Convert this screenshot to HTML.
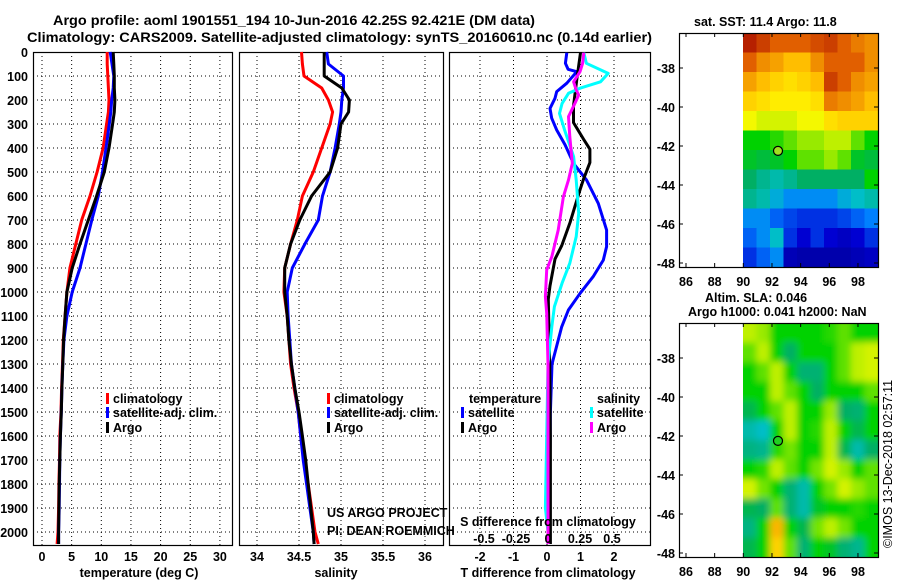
<!DOCTYPE html>
<html><head><meta charset="utf-8">
<style>
html,body{margin:0;padding:0;background:#fff;}
svg{display:block;font-family:"Liberation Sans",sans-serif;}
.b{font-weight:bold;font-size:12.5px;fill:#000;}
.t{font-weight:bold;font-size:14px;fill:#000;}
</style></head>
<body>
<svg id="fig" width="900" height="580" viewBox="0 0 900 580" xmlns="http://www.w3.org/2000/svg">
<text class="t" x="53" y="25" textLength="482" lengthAdjust="spacingAndGlyphs">Argo profile: aoml 1901551_194 10-Jun-2016 42.25S 92.421E (DM data)</text>
<text class="t" x="27" y="42" textLength="625" lengthAdjust="spacingAndGlyphs">Climatology: CARS2009. Satellite-adjusted climatology: synTS_20160610.nc (0.14d earlier)</text>
<text class="b" x="694" y="26">sat. SST: 11.4 Argo: 11.8</text>
<text class="b" x="705" y="302">Altim. SLA: 0.046</text>
<text class="b" x="688" y="316">Argo h1000: 0.041 h2000: NaN</text>
<text x="0" y="0" font-size="12.5" transform="translate(892,548) rotate(-90)">©IMOS 13-Dec-2018 02:57:11</text>
</svg>
<script>
// ---------- data ----------
const depthTicks=[0,100,200,300,400,500,600,700,800,900,1000,1100,1200,1300,1400,1500,1600,1700,1800,1900,2000];
const profDepths=[0,50,100,150,200,250,300,400,500,600,700,800,900,1000,1100,1200,1300,1400,1500,1600,1700,1800,1900,2000,2050];
const tempClim=[11.0,11.0,11.1,11.2,11.3,11.2,10.9,10.3,9.3,8.1,6.7,5.7,4.7,4.2,3.9,3.6,3.45,3.3,3.2,3.0,2.95,2.85,2.8,2.7,2.55];
const tempSat=[11.5,11.8,12.1,12.0,11.75,11.6,11.35,10.8,10.2,9.5,8.4,7.4,6.4,5.1,4.2,3.7,3.5,3.35,3.25,3.1,3.0,2.95,2.9,2.8,2.8];
const tempArgo=[12.0,12.1,12.2,12.2,12.3,12.2,11.9,11.3,10.5,9.2,7.8,6.4,5.1,4.2,3.9,3.65,3.5,3.35,3.25,3.1,3.0,2.9,2.85,2.8,2.8];
const salClim=[34.53,34.54,34.56,34.77,34.85,34.9,34.87,34.77,34.67,34.54,34.48,34.40,34.33,34.32,34.36,34.38,34.40,34.44,34.49,34.52,34.56,34.61,34.65,34.69,34.73];
const salSat=[34.83,34.85,35.03,35.03,35.01,35.0,34.98,34.93,34.87,34.78,34.73,34.57,34.42,34.36,34.37,34.39,34.41,34.45,34.49,34.52,34.55,34.59,34.63,34.67,34.68];
const salArgo=[34.80,34.80,34.80,35.01,35.10,35.09,35.0,34.96,34.87,34.65,34.51,34.40,34.33,34.33,34.36,34.38,34.41,34.45,34.50,34.54,34.58,34.61,34.64,34.67,34.68];
const dTSatDepth=[3,47,72,82,130,165,193,235,276,325,387,464,533,631,742,811,867,936,1005,1075,1145,1300,1500,1800,2050];
const dTSat=[0.59,0.55,0.63,0.89,0.59,0.29,0.24,0.09,0.14,0.29,0.54,0.79,1.18,1.53,1.78,1.78,1.68,1.38,0.99,0.64,0.44,0.15,0.1,0.08,0.08];
const dTArgoDepth=[3,114,225,294,363,405,461,530,572,641,710,807,863,974,1030,1300,1600,2050];
const dTArgo=[1.0,0.89,0.79,0.79,1.09,1.28,1.28,1.09,0.99,0.84,0.69,0.44,0.24,0.09,0.04,0.08,0.1,0.1];
const dSSatDepth=[3,47,89,124,151,172,214,256,325,436,533,672,769,880,963,1061,1145,1300,1600,1900,2000];
const dSSat=[0.28,0.30,0.47,0.41,0.25,0.16,0.11,0.09,0.13,0.20,0.22,0.24,0.22,0.17,0.11,0.05,0.03,0.0,-0.01,-0.02,0.0];
const dSArgoDepth=[3,47,82,124,158,179,214,269,353,464,533,603,742,853,908,1019,1089,1300,1700,2050];
const dSArgo=[0.28,0.27,0.25,0.20,0.22,0.24,0.21,0.16,0.17,0.19,0.16,0.12,0.08,0.03,-0.01,-0.02,-0.01,0.0,0.0,0.0];
const tempTicks=[0,5,10,15,20,25,30];
const salTicks=[34,34.5,35,35.5,36];
const salTickLabels=["34","34.5","35","35.5","36"];
const dTTicks=[-2,-1,0,1,2];
const dSTicks=[-0.5,-0.25,0,0.25,0.5];
const dSTickLabels=["-0.5","-0.25","0","0.25","0.5"];
const lonTicks=[86,88,90,92,94,96,98];
const latTicks=[-38,-40,-42,-44,-46,-48];
const sstGrid=[
[0.95,0.9,0.85,0.85,0.85,0.88,0.9,0.85,0.82,0.8],
[0.85,0.8,0.78,0.75,0.75,0.8,0.85,0.85,0.85,0.8],
[0.78,0.75,0.72,0.7,0.72,0.75,0.9,0.85,0.8,0.78],
[0.72,0.7,0.68,0.68,0.68,0.7,0.82,0.8,0.78,0.75],
[0.65,0.62,0.62,0.62,0.65,0.65,0.7,0.72,0.72,0.72],
[0.5,0.5,0.52,0.55,0.58,0.58,0.6,0.6,0.55,0.5],
[0.48,0.47,0.48,0.5,0.55,0.55,0.58,0.55,0.48,0.47],
[0.45,0.42,0.4,0.42,0.45,0.45,0.45,0.45,0.45,0.5],
[0.42,0.4,0.35,0.3,0.3,0.3,0.3,0.35,0.38,0.4],
[0.3,0.3,0.25,0.22,0.2,0.2,0.2,0.22,0.25,0.28],
[0.25,0.3,0.38,0.2,0.15,0.2,0.15,0.12,0.15,0.2],
[0.2,0.25,0.3,0.1,0.08,0.08,0.08,0.08,0.1,0.12]];
const slaGrid=[
[0.6,0.58,0.5,0.5,0.5,0.5,0.52,0.55,0.5,0.5],
[0.55,0.6,0.5,0.45,0.5,0.5,0.5,0.55,0.6,0.62],
[0.5,0.55,0.6,0.5,0.44,0.44,0.5,0.55,0.6,0.62],
[0.5,0.5,0.6,0.55,0.5,0.45,0.5,0.5,0.5,0.55],
[0.46,0.5,0.55,0.6,0.5,0.5,0.58,0.45,0.44,0.5],
[0.4,0.38,0.5,0.6,0.5,0.52,0.6,0.5,0.46,0.5],
[0.43,0.42,0.52,0.56,0.5,0.5,0.6,0.46,0.4,0.45],
[0.5,0.52,0.6,0.55,0.5,0.56,0.62,0.58,0.5,0.55],
[0.62,0.56,0.5,0.44,0.4,0.5,0.56,0.62,0.58,0.55],
[0.46,0.45,0.55,0.44,0.4,0.48,0.5,0.5,0.52,0.5],
[0.43,0.5,0.76,0.5,0.46,0.56,0.6,0.56,0.5,0.5],
[0.46,0.5,0.72,0.55,0.44,0.5,0.48,0.44,0.42,0.5]];
const argoLon=92.42, argoLat=-42.25;

// ---------- helpers ----------
const svg=document.getElementById('fig');
const NS='http://www.w3.org/2000/svg';
function mk(tag,attrs,parent){const e=document.createElementNS(NS,tag);for(const k in attrs)e.setAttribute(k,attrs[k]);(parent||svg).appendChild(e);return e;}
const yTop=52, pxPer100=24.0, yBot=545;
const yD=d=>yTop+d*pxPer100/100;
const xT=v=>42+5.93*v;
const xS=v=>257+84*(v-34);
const xDT=v=>547+33.5*v;
const xDS=v=>548+128*v;

function panel(x0,x1,name,xTicksV,xFn){
  const g=mk('g',{});
  
  
  depthTicks.forEach(d=>{ if(d>0){const l=mk('line',{x1:x0,x2:x1,y1:yD(d),y2:yD(d),stroke:'#000','stroke-width':1,'stroke-dasharray':'1,3'},g);
    }});
  xTicksV.forEach(v=>{const x=xFn(v); if(x>x0+2&&x<x1-2){const l=mk('line',{x1:x,x2:x,y1:yTop,y2:yBot,stroke:'#000','stroke-width':1,'stroke-dasharray':'1,3'},g);
    }});
  const r=mk('rect',{x:x0+0.5,y:yTop+0.5,width:x1-x0,height:yBot-yTop,fill:'none',stroke:'#000','stroke-width':1.2},g);
  
  return g;
}
function series(g,depths,vals,xFn,color,name){
  let d='';
  vals.forEach((v,i)=>{d+=(i?'L':'M')+xFn(v).toFixed(1)+','+yD(depths[i]).toFixed(1);});
  const p=mk('path',{d:d,fill:'none',stroke:color,'stroke-width':3,'stroke-linejoin':'round'},g);
  
  
}
function txt(s,x,y,cls,anchor,name,extra){
  const t=mk('text',Object.assign({x:x,y:y,class:cls||'b','text-anchor':anchor||'start'},extra||{}));
  t.textContent=s;
  
  
  return t;
}
function legBar(x,y,color){
  const r=mk('rect',{x:x,y:y-10,width:3,height:11,fill:color});
  
  
}

depthTicks.forEach(d=>txt(String(d),28,yD(d)+5,'b','end','depth-tick-label'));

const gT=panel(33,232,'temperature-panel',tempTicks,xT);
series(gT,profDepths,tempClim,xT,'#ff0000','temp-climatology-line');
series(gT,profDepths,tempSat,xT,'#0000ff','temp-satellite-line');
series(gT,profDepths,tempArgo,xT,'#000000','temp-argo-line');
tempTicks.forEach(v=>txt(String(v),xT(v),561,'b','middle','temp-tick-label'));
txt('temperature (deg C)',139,577,'b','middle','x-axis-title-temperature');
legBar(106,403,'#ff0000');txt('climatology',113,403,'b','start','legend-entry-climatology');
legBar(106,417,'#0000ff');txt('satellite-adj. clim.',113,417,'b','start','legend-entry-satellite');
legBar(106,432,'#000');txt('Argo',113,432,'b','start','legend-entry-argo');

const gS=panel(239,443,'salinity-panel',salTicks,xS);
series(gS,profDepths,salClim,xS,'#ff0000','sal-climatology-line');
series(gS,profDepths,salSat,xS,'#0000ff','sal-satellite-line');
series(gS,profDepths,salArgo,xS,'#000000','sal-argo-line');
salTicks.forEach((v,i)=>txt(salTickLabels[i],xS(v),561,'b','middle','sal-tick-label'));
txt('salinity',336,577,'b','middle','x-axis-title-salinity');
legBar(327,403,'#ff0000');txt('climatology',334,403,'b','start','legend-entry-climatology');
legBar(327,417,'#0000ff');txt('satellite-adj. clim.',334,417,'b','start','legend-entry-satellite');
legBar(327,432,'#000');txt('Argo',334,432,'b','start','legend-entry-argo');
txt('US ARGO PROJECT',327,517,'','start','credit-project',{'font-size':'12','fill':'#222'});
txt('PI: DEAN ROEMMICH',327,535,'','start','credit-pi',{'font-size':'12','fill':'#222'});

const gD=panel(449,650,'difference-panel',dTTicks,xDT);
series(gD,dTSatDepth,dTSat,xDT,'#0000ff','dT-satellite-line');
series(gD,dTArgoDepth,dTArgo,xDT,'#000000','dT-argo-line');
series(gD,dSSatDepth,dSSat,xDS,'#00ffff','dS-satellite-line');
series(gD,dSArgoDepth,dSArgo,xDS,'#ff00ff','dS-argo-line');
dTTicks.forEach(v=>txt(String(v),xDT(v),561,'b','middle','dT-tick-label'));
txt('T difference from climatology',548,577,'b','middle','x-axis-title-dT');
dSTicks.forEach((v,i)=>txt(dSTickLabels[i],xDS(v),543,'b','middle','dS-tick-label'));
txt('S difference from climatology',548,526,'b','middle','dS-axis-title');
txt('temperature',469,403,'b','start','legend-title-temperature');
txt('salinity',597,403,'b','start','legend-title-salinity');
legBar(461,417,'#0000ff');txt('satellite',468,417,'b','start','legend-entry-t-satellite');
legBar(461,432,'#000');txt('Argo',468,432,'b','start','legend-entry-t-argo');
legBar(590,417,'#00ffff');txt('satellite',597,417,'b','start','legend-entry-s-satellite');
legBar(590,432,'#ff00ff');txt('Argo',597,432,'b','start','legend-entry-s-argo');

const stops=[[0,[0,0,128]],[0.15,[0,0,210]],[0.28,[0,128,255]],[0.38,[0,190,200]],[0.45,[0,175,100]],[0.5,[0,210,0]],[0.6,[190,240,0]],[0.66,[255,250,0]],[0.75,[255,190,0]],[0.85,[225,95,0]],[1,[160,0,0]]];
function cmap(v){
  for(let i=1;i<stops.length;i++){if(v<=stops[i][0]){const a=stops[i-1],b=stops[i];const t=(v-a[0])/(b[0]-a[0]);
    const c=a[1].map((x,k)=>Math.round(x+(b[1][k]-x)*t));return 'rgb('+c.join(',')+')';}}
  return 'rgb(160,0,0)';
}
function mapPanel(yTopM,yBotM,lat38y,grid,name,blur){
  const x0=679,x1=878;
  const xL=v=>686+(v-86)*14.33;
  const pxLat=(lat38y-(yBotM-4))/(10);
  const yL=lat=>lat38y+(-38-lat)*(-pxLat);
  const g=mk('g',{});
  
  
  const clipId=name+'-clip';
  const cp=mk('clipPath',{id:clipId},g);mk('rect',{x:743,y:yTopM,width:x1-743,height:yBotM-yTopM},cp);
  const hg=mk('g',{'clip-path':'url(#'+clipId+')'},g);
  let inner=hg;
  if(blur){const f=mk('filter',{id:name+'-blur',x:'-10%',y:'-10%',width:'120%',height:'120%'},g);mk('feGaussianBlur',{stdDeviation:'3.5'},f);
    inner=mk('g',{filter:'url(#'+name+'-blur)'},hg);}
  const rows=grid.length,cols=grid[0].length;
  const cw=(x1-743)/cols, ch=(yBotM-yTopM)/rows;
  grid.forEach((row,ri)=>row.forEach((v,ci)=>{
    const r=mk('rect',{x:743+ci*cw-(blur&&ci==0?10:0),y:yTopM+ri*ch-(blur&&ri==0?10:0),width:cw+0.6+(blur&&(ci==0||ci==cols-1)?10:0),height:ch+0.6+(blur&&(ri==0||ri==rows-1)?10:0),fill:cmap(v)},inner);
    
    
  }));
  const fr=mk('rect',{x:x0+0.5,y:yTopM+0.5,width:x1-x0,height:yBotM-yTopM,fill:'none',stroke:'#000','stroke-width':1.2},g);
  
  lonTicks.forEach(v=>{const x=xL(v);mk('line',{x1:x,x2:x,y1:yBotM,y2:yBotM-4,stroke:'#000'},g);mk('line',{x1:x,x2:x,y1:yTopM,y2:yTopM+4,stroke:'#000'},g);
    txt(String(v),x,yBotM+19,'b','middle','lon-tick-label');});
  latTicks.forEach(v=>{const y=yL(v);mk('line',{x1:x0,x2:x0+4,y1:y,y2:y,stroke:'#000'},g);mk('line',{x1:x1,x2:x1-4,y1:y,y2:y,stroke:'#000'},g);
    txt(String(v),675,y+5,'b','end','lat-tick-label');});
  const c=mk('circle',{cx:xL(argoLon),cy:yL(argoLat),r:4.5,fill:blur?'#20d020':'#a0e020',stroke:'#000','stroke-width':1.2},g);
  
  
}
mapPanel(33,267,68,sstGrid,'sst-map',false);
mapPanel(323,557,358,slaGrid,'sla-map',true);
</script>
</body></html>
